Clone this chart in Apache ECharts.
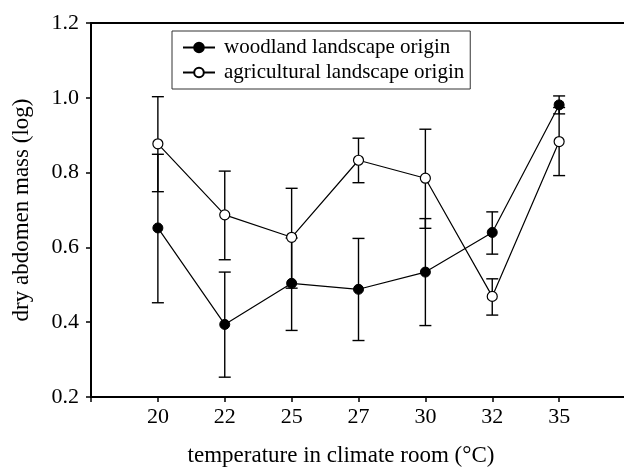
<!DOCTYPE html>
<html>
<head>
<meta charset="utf-8">
<script src="https://cdn.jsdelivr.net/npm/echarts@6/dist/echarts.min.js"></script>
<style>html,body{margin:0;padding:0;background:#fff;}#c{width:624px;height:467px;}</style>
</head>
<body>
<div id="c"></div>
<script>
var categories = ['20', '22', '25', '27', '30', '32', '35'];
var woodlandMean = [0.652, 0.394, 0.504, 0.488, 0.534, 0.640, 0.981];
var woodlandLow  = [0.452, 0.253, 0.378, 0.351, 0.391, 0.582, 0.957];
var woodlandHigh = [0.849, 0.534, 0.625, 0.624, 0.677, 0.695, 1.005];
var agriMean = [0.877, 0.687, 0.627, 0.833, 0.785, 0.469, 0.883];
var agriLow  = [0.749, 0.567, 0.491, 0.773, 0.651, 0.419, 0.792];
var agriHigh = [1.003, 0.804, 0.758, 0.892, 0.916, 0.516, 0.974];
var yTicks = [0.2, 0.4, 0.6, 0.8, 1.0, 1.2];

var FONT = 'Liberation Serif';
function pts(mean) { return mean.map(function (v, i) { return [i + 1, v]; }); }
function bars(lo, hi) { return lo.map(function (v, i) { return [i + 1, v, hi[i]]; }); }

function errItem(params, api) {
  var x = api.value(0);
  var p1 = api.coord([x, api.value(1)]);
  var p2 = api.coord([x, api.value(2)]);
  var hw = 6;
  var st = { stroke: '#000', lineWidth: 1.4 };
  return {
    type: 'group',
    children: [
      { type: 'line', shape: { x1: p1[0], y1: p1[1], x2: p2[0], y2: p2[1] }, style: st },
      { type: 'line', shape: { x1: p1[0] - hw, y1: p1[1], x2: p1[0] + hw, y2: p1[1] }, style: st },
      { type: 'line', shape: { x1: p2[0] - hw, y1: p2[1], x2: p2[0] + hw, y2: p2[1] }, style: st }
    ]
  };
}

var chart = echarts.init(document.getElementById('c'), null, { renderer: 'canvas' });
chart.setOption({
  animation: false,
  backgroundColor: '#fff',
  textStyle: { fontFamily: FONT, color: '#000' },
  grid: { left: 91, top: 23, width: 535, height: 374, containLabel: false, outerBoundsMode: 'none' },
  legend: {
    left: 172, top: 31,
    orient: 'vertical',
    padding: [6, 6, 6, 10],
    itemGap: 4,
    itemWidth: 32, itemHeight: 12,
    borderColor: '#333', borderWidth: 1,
    textStyle: { fontFamily: FONT, fontSize: 21, color: '#000', padding: [0, 0, 0, 4] },
    data: ['woodland landscape origin', 'agricultural landscape origin']
  },
  xAxis: [{
    type: 'value', min: 0, max: 8, interval: 1,
    axisLine: { lineStyle: { color: '#000', width: 2 } },
    axisTick: { inside: false, length: 5, lineStyle: { color: '#000', width: 1.5 } },
    axisLabel: {
      margin: 9, fontFamily: FONT, fontSize: 22, color: '#000',
      formatter: function (v) { return (v >= 1 && v <= categories.length) ? categories[v - 1] : ''; }
    },
    splitLine: { show: false }
  }, {
    type: 'value', min: 0, max: 8, position: 'top',
    axisLine: { show: true, lineStyle: { color: '#000', width: 2 } },
    axisTick: { show: false }, axisLabel: { show: false }, splitLine: { show: false }
  }],
  yAxis: {
    type: 'value', min: yTicks[0], max: yTicks[yTicks.length - 1], interval: 0.2,
    name: 'dry abdomen mass (log)', nameLocation: 'middle', nameRotate: 90, nameGap: 58,
    nameTextStyle: { fontFamily: FONT, fontSize: 23, color: '#000' },
    axisLine: { show: true, lineStyle: { color: '#000', width: 2 } },
    axisTick: { inside: false, length: 5, lineStyle: { color: '#000', width: 1.5 } },
    axisLabel: { margin: 12, fontFamily: FONT, fontSize: 22, color: '#000',
      formatter: function (v) { return v.toFixed(1); } },
    splitLine: { show: false }
  },
  graphic: [{
    type: 'text', x: 341, y: 456,
    style: { text: 'temperature in climate room (°C)', font: '23px "Liberation Serif"', fill: '#000',
      textAlign: 'center', textVerticalAlign: 'middle' }
  }],
  series: [
    { type: 'custom', renderItem: errItem, data: bars(woodlandLow, woodlandHigh), z: 1, silent: true },
    { type: 'custom', renderItem: errItem, data: bars(agriLow, agriHigh), z: 1, silent: true },
    {
      name: 'agricultural landscape origin', type: 'line', data: pts(agriMean), z: 3,
      symbol: 'circle', symbolSize: 10, showAllSymbol: true,
      lineStyle: { color: '#000', width: 1.2 },
      itemStyle: { color: '#fff', borderColor: '#000', borderWidth: 1.2 }
    },
    {
      name: 'woodland landscape origin', type: 'line', data: pts(woodlandMean), z: 4,
      symbol: 'circle', symbolSize: 10, showAllSymbol: true,
      lineStyle: { color: '#000', width: 1.2 },
      itemStyle: { color: '#000', borderColor: '#000', borderWidth: 1 }
    }
  ]
});
</script>
</body>
</html>
